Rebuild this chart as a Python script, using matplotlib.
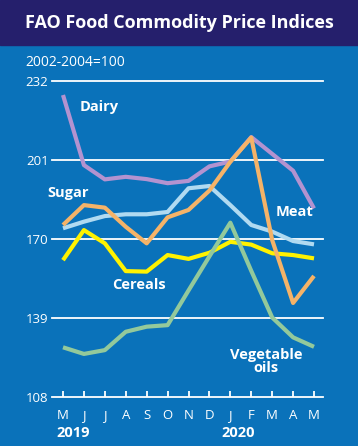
import matplotlib
matplotlib.use('Agg')
import matplotlib.pyplot as plt
from matplotlib.patches import Rectangle

# months May 2019 .. May 2020
months = ['M', 'J', 'J', 'A', 'S', 'O', 'N', 'D', 'J', 'F', 'M', 'A', 'M']
years = ['2019', '2020']
yticks = [108, 139, 170, 201, 232]

dairy = [226.5, 199.0, 193.4, 194.4, 193.5, 191.9, 192.8, 198.5, 200.4, 210.0, 203.4, 196.8, 182.0]
meat = [174.2, 176.8, 179.0, 179.7, 179.7, 180.6, 189.9, 190.8, 183.3, 175.5, 172.9, 169.2, 167.9]
sugar = [175.5, 183.3, 182.3, 174.8, 168.3, 178.5, 181.4, 189.0, 200.3, 209.8, 169.6, 144.9, 155.5]
cereals = [161.7, 173.5, 168.3, 157.4, 157.2, 163.7, 162.2, 164.6, 168.9, 167.8, 164.4, 163.7, 162.4]
veg_oils = [127.5, 124.9, 126.4, 133.6, 135.6, 136.2, 149.8, 163.2, 176.4, 157.5, 139.2, 131.4, 127.7]

BG = '#0a72ba'
NAVY = '#251f6c'

plt.rcParams['font.family'] = ['Open Sans', 'DejaVu Sans']

fig = plt.figure(figsize=(3.58, 4.46), dpi=100)
fig.patch.set_facecolor(BG)
fig.add_artist(Rectangle((0, 0.899), 1, 0.101, transform=fig.transFigure,
                         color=NAVY, zorder=0))
fig.text(0.5, 0.937, 'FAO Food Commodity Price Indices', color='white',
         fontsize=13, fontweight='bold', ha='center', va='baseline')
fig.text(25 / 358, 0.852, '2002-2004=100', color='white', fontsize=10,
         ha='left', va='baseline')

ax = fig.add_axes([52 / 358, 49 / 446, 271 / 358, 316 / 446])
ax.set_facecolor('none')
for s in ax.spines.values():
    s.set_visible(False)

x = list(range(len(months)))
ax.set_xlim(-0.526, 12.43)
ax.set_ylim(108, 232)

# grid lines and base line
for yv in yticks:
    ax.axhline(yv, color='white', lw=1.3, clip_on=False, zorder=1)

lw = 3
ax.plot(x, cereals, color='#fff200', lw=lw, solid_capstyle='butt', zorder=3)
ax.plot(x, meat, color='#b0daf1', lw=lw, solid_capstyle='butt', zorder=3)
ax.plot(x, dairy, color='#b393d0', lw=lw, solid_capstyle='butt', zorder=3)
ax.plot(x, veg_oils, color='#93c99b', lw=lw, solid_capstyle='butt', zorder=3)
ax.plot(x, sugar, color='#f5b368', lw=lw, solid_capstyle='butt', zorder=3)

ax.set_yticks(yticks)
ax.set_xticks(x)
ax.set_xticklabels(months)
ax.tick_params(axis='y', length=0, pad=2.5, labelcolor='white', labelsize=9.5)
ax.tick_params(axis='x', direction='in', length=4, width=1.3, color='white',
               pad=8.5, labelcolor='white', labelsize=9.5)

# year labels
ax.text(-0.33, -0.127, years[0], transform=ax.get_xaxis_transform(), color='white',
        fontsize=10.5, fontweight='bold', ha='left', va='baseline')
ax.text(7.55, -0.127, years[1], transform=ax.get_xaxis_transform(), color='white',
        fontsize=10.5, fontweight='bold', ha='left', va='baseline')

# series labels
lab = dict(color='white', fontsize=10.5, fontweight='bold', va='baseline', zorder=4)
ax.text(0.81, 220.2, 'Dairy', ha='left', **lab)
ax.text(-0.76, 186.5, 'Sugar', ha='left', **lab)
ax.text(10.17, 179.1, 'Meat', ha='left', **lab)
ax.text(2.33, 150.25, 'Cereals', ha='left', **lab)
ax.text(9.70, 122.9, 'Vegetable', ha='center', **lab)
ax.text(9.70, 117.9, 'oils', ha='center', **lab)

fig.savefig('out.png', dpi=100, facecolor=BG)
